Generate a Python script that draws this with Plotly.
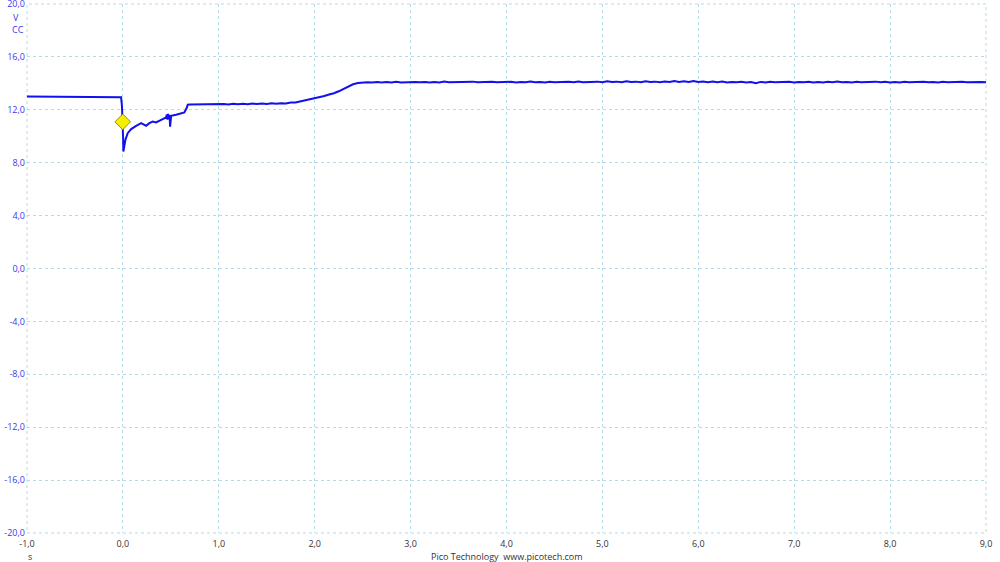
import plotly.graph_objects as go

# ---- data ----
x_tick_vals = [-1, 0, 1, 2, 3, 4, 5, 6, 7, 8, 9]
x_tick_text = ["-1,0", "0,0", "1,0", "2,0", "3,0", "4,0", "5,0", "6,0", "7,0", "8,0", "9,0"]
y_tick_vals = [20, 16, 12, 8, 4, 0, -4, -8, -12, -16, -20]
y_tick_text = ["20,0", "16,0", "12,0", "8,0", "4,0", "0,0", "-4,0", "-8,0", "-12,0", "-16,0", "-20,0"]

# pre-trigger and dip section
t_dip = [-1.0, -0.03, -0.019, -0.010, -0.002, 0.002, 0.005, 0.012, 0.026, 0.05, 0.086, 0.138,
         0.19, 0.224, 0.242, 0.276, 0.311, 0.346, 0.381, 0.415, 0.45, 0.458, 0.465, 0.472,
         0.48, 0.487, 0.492, 0.497, 0.503, 0.555, 0.607, 0.641, 0.665, 0.676]
v_dip = [13.0, 13.0, 12.95, 12.3, 11.09, 9.9, 8.84, 9.3, 9.73, 10.23, 10.54, 10.79,
         10.99, 10.86, 10.79, 10.99, 11.11, 11.04, 11.19, 11.29, 11.42, 11.65, 11.25, 11.7,
         11.3, 11.6, 10.73, 11.5, 11.54, 11.62, 11.75, 11.8, 12.13, 12.38]

# plateau and ramp section
t_ramp = [0.70, 0.75, 0.80, 0.85, 0.90, 0.95, 1.00, 1.05, 1.10, 1.15, 1.20, 1.25, 1.30,
          1.35, 1.40, 1.45, 1.50, 1.55, 1.60, 1.65, 1.70, 1.75, 1.80, 1.85, 1.90, 1.95,
          2.00, 2.05, 2.10, 2.15, 2.20, 2.25, 2.30, 2.35, 2.40, 2.45]
v_ramp = [12.40, 12.41, 12.40, 12.42, 12.40, 12.43, 12.41, 12.44, 12.41, 12.45, 12.42, 12.46,
          12.42, 12.47, 12.43, 12.47, 12.44, 12.49, 12.45, 12.50, 12.48, 12.55, 12.56, 12.64,
          12.68, 12.78, 12.85, 12.97, 13.05, 13.16, 13.25, 13.40, 13.58, 13.78, 13.93, 14.02]

# settled section (every 0.05 s from 2.50 to 9.00)
t_flat = [2.50 + 0.05 * i for i in range(131)]
v_flat = [14.06, 14.09, 14.07, 14.11, 14.07, 14.10, 14.06, 14.12, 14.07, 14.09,
          14.07, 14.11, 14.08, 14.10, 14.06, 14.11, 14.07, 14.13, 14.08, 14.09,
          14.07, 14.11, 14.07, 14.13, 14.08, 14.10, 14.07, 14.12, 14.08, 14.09,
          14.06, 14.12, 14.07, 14.11, 14.08, 14.14, 14.09, 14.11, 14.07, 14.12,
          14.08, 14.10, 14.07, 14.12, 14.08, 14.14, 14.09, 14.11, 14.08, 14.13,
          14.09, 14.15, 14.10, 14.13, 14.09, 14.16, 14.10, 14.13, 14.09, 14.15,
          14.10, 14.13, 14.09, 14.14, 14.10, 14.17, 14.11, 14.15, 14.10, 14.17,
          14.10, 14.14, 14.09, 14.13, 14.08, 14.13, 14.07, 14.11, 14.08, 14.12,
          14.07, 14.10, 14.01, 14.11, 14.07, 14.12, 14.08, 14.10, 14.07, 14.12,
          14.07, 14.11, 14.08, 14.12, 14.07, 14.10, 14.07, 14.12, 14.08, 14.13,
          14.08, 14.11, 14.07, 14.12, 14.08, 14.10, 14.07, 14.13, 14.08, 14.12,
          14.07, 14.11, 14.07, 14.12, 14.08, 14.10, 14.07, 14.12, 14.08, 14.11,
          14.07, 14.12, 14.08, 14.10, 14.07, 14.12, 14.08, 14.10, 14.07, 14.11,
          14.08]

trigger_t = [-0.002]
trigger_v = [11.09]

t_all = t_dip + t_ramp + t_flat
v_all = v_dip + v_ramp + v_flat

font_family = "Open Sans, DejaVu Sans, sans-serif"
grid_color = "#b8dbe6"

fig = go.Figure()
fig.add_trace(go.Scatter(x=t_all, y=v_all, mode="lines",
                         line=dict(color="#1010f0", width=2), hoverinfo="skip"))
fig.add_trace(go.Scatter(x=trigger_t, y=trigger_v, mode="markers",
                         marker=dict(symbol="diamond", size=12, color="#f5f000",
                                     line=dict(color="#a09000", width=1)),
                         hoverinfo="skip"))

# dashed frame around the plotting area (like the grid)
fig.add_shape(type="rect", xref="paper", yref="paper", x0=0, y0=0, x1=1, y1=1,
              line=dict(color=grid_color, width=1, dash="3px,3px"), layer="below")

fig.update_layout(
    width=1000, height=562,
    margin=dict(l=27, r=14, t=4, b=29, autoexpand=False),
    paper_bgcolor="white", plot_bgcolor="white",
    showlegend=False,
    font=dict(family=font_family, size=9, color="#333333"),
    xaxis=dict(range=[-1, 9], tickvals=x_tick_vals, ticktext=x_tick_text,
               showgrid=True, gridcolor=grid_color, griddash="3px,3px", gridwidth=1,
               zeroline=False, showline=False, ticks="", ticklabeloverflow="allow",
               tickfont=dict(size=9, color="#333333"), ticklabelstandoff=4),
    yaxis=dict(range=[-20, 20], tickvals=y_tick_vals, ticktext=y_tick_text,
               showgrid=True, gridcolor=grid_color, griddash="3px,3px", gridwidth=1,
               zeroline=False, showline=False, ticks="", ticklabeloverflow="allow",
               tickfont=dict(size=9, color="#3838f0"), ticklabelstandoff=1),
    annotations=[
        dict(text="V", xref="paper", yref="y", x=0, y=20, xanchor="right", yanchor="middle",
             xshift=-6, yshift=-13, showarrow=False, font=dict(size=9, color="#3838f0")),
        dict(text="CC", xref="paper", yref="y", x=0, y=20, xanchor="right", yanchor="middle",
             xshift=-1, yshift=-25, showarrow=False, font=dict(size=9, color="#3838f0")),
        dict(text="s", xref="paper", yref="paper", x=0, y=0, xanchor="center", yanchor="middle",
             xshift=3, yshift=-23, showarrow=False, font=dict(size=9, color="#333333")),
        dict(text="Pico Technology  www.picotech.com", xref="paper", yref="paper",
             x=0.5, y=0, xanchor="center", yanchor="middle", yshift=-23, showarrow=False,
             font=dict(size=9, color="#333333")),
    ],
)

fig.write_html("out.html", config={"displayModeBar": False},
               post_script="document.body.style.margin='0';document.body.style.overflow='hidden';")
